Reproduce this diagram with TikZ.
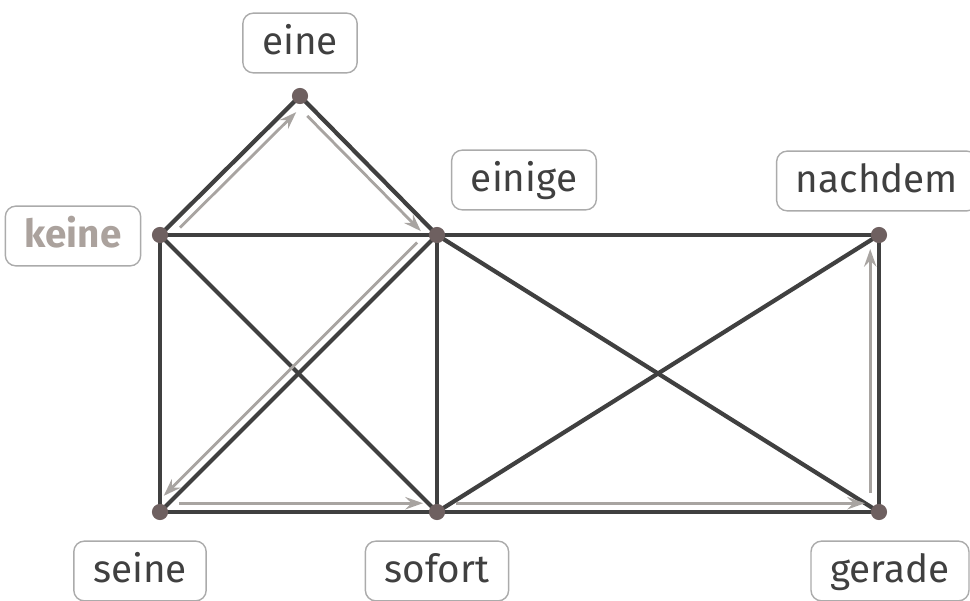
\documentclass[tikz,border=0pt]{standalone}
\usepackage{fontspec}
\setmainfont{Fira Sans}
\usetikzlibrary{calc,arrows.meta}
\definecolor{edgegray}{HTML}{404040}
\definecolor{dotbrown}{HTML}{6E6060}
\definecolor{walkgray}{HTML}{A8A4A1}
\definecolor{boxgray}{HTML}{ABABAB}
\definecolor{wordgray}{HTML}{404040}
\definecolor{startgray}{HTML}{ABA29D}

\begin{document}
\begin{tikzpicture}[x=0.02cm, y=-0.02cm,
  word/.style={draw=boxgray, line width=0.8pt, rounded corners=6pt, text=wordgray,
    inner xsep=11pt, inner ysep=0pt, text height=16.5pt, text depth=3pt,
    minimum height=34pt, font=\fontsize{22}{26}\selectfont},
  edge/.style={draw=edgegray, line width=2.4pt},
  walk/.style={draw=walkgray, line width=1.6pt, -{Stealth[length=10pt,width=7pt,inset=3.5pt]},
    shorten <=11pt, shorten >=8pt}]
\useasboundingbox (0,0) rectangle (970,601);

% vertices
\foreach \name/\x/\y in {eine/300/96, keine/160/235, einige/437/235, nachdem/879/235,
                         seine/160/512, sofort/437/512, gerade/879/512}{
  \coordinate (\name) at (\x,\y);
}

% edges of the graph
\foreach \a/\b in {keine/eine, eine/einige, keine/einige, keine/seine, keine/sofort,
                   einige/seine, einige/sofort, einige/nachdem, einige/gerade,
                   seine/sofort, sofort/nachdem, sofort/gerade, nachdem/gerade}{
  \draw[edge] (\a) -- (\b);
}

% the walk, drawn beside the edges
\foreach \a/\b/\s in {keine/eine/-90, eine/einige/-90, einige/seine/-90,
                      seine/sofort/90, sofort/gerade/90, gerade/nachdem/90}{
  \draw[walk] ($(\a)!5pt!\s:(\b)$) -- ($(\b)!5pt!-\s:(\a)$);
}

\foreach \name in {eine, keine, einige, nachdem, seine, sofort, gerade}{
  \fill[dotbrown] (\name) circle (4.6pt);
}

% labels
\node[word] (w-eine) at (300,43) {eine};
\node[word, text=startgray, font=\fontsize{22}{26}\selectfont\bfseries] (w-keine) at (73,236) {keine};
\node[word] (w-einige) at (524,180) {einige};
\node[word] (w-nachdem) at (877,181) {nachdem};
\node[word] (w-seine) at (140,571) {seine};
\node[word] (w-sofort) at (437,571) {sofort};
\node[word] (w-gerade) at (890,571) {gerade};
\end{tikzpicture}
\end{document}
